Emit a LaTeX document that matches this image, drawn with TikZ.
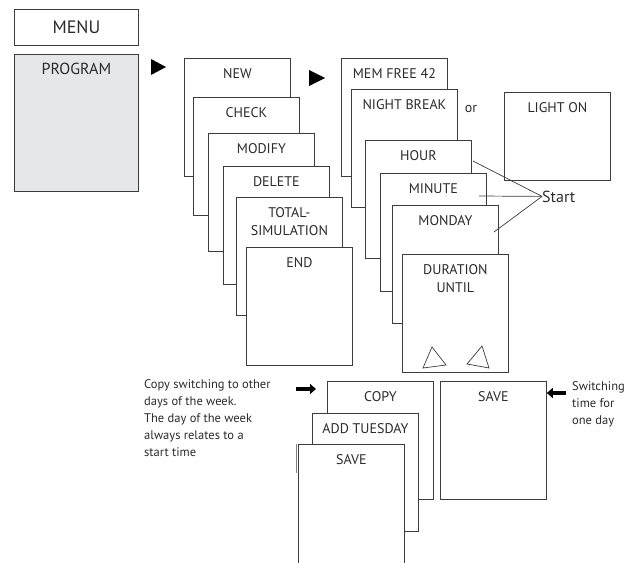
\documentclass[tikz,border=0pt]{standalone}
\usepackage{fontspec}
\setmainfont{PT Sans}
\usetikzlibrary{arrows.meta,positioning}
\definecolor{linec}{HTML}{3C3C3C}
\definecolor{textc}{HTML}{2B2B2B}
\definecolor{progc}{HTML}{E6E7E8}
\tikzset{
  card/.style={draw=linec,line width=0.8pt,fill=white,anchor=north west,minimum width=106pt,minimum height=118pt,inner sep=0pt},
  lbl/.style={font=\fontsize{14}{18}\selectfont,text=textc,inner sep=0pt,align=center},
  note/.style={font=\fontsize{12.5}{17}\selectfont,text=textc,inner sep=0pt,align=left,anchor=north west},
  blk/.style={-{Triangle[length=6pt,width=10pt]},line width=4pt,draw=black},
  lnk/.style={draw=linec,line width=0.7pt},
}
\newcommand{\card}[4][]{%
  \node[card,#1] (#2) at (#3) {};
  \node[lbl,anchor=north] (#2-t) at ([yshift=-10pt]#2.north) {#4};}

\begin{document}
\begin{tikzpicture}[x=1pt,y=-1pt]
  \useasboundingbox (0,0) rectangle (642,562);
  \clip (0,0) rectangle (642,562);
  % menu column
  \node[card,minimum width=124pt,minimum height=36pt] (menu) at (14,9) {};
  \node[lbl,font=\fontsize{18}{20}\selectfont] (menu-t) at (menu.center) {MENU};
  \node[card,fill=progc,minimum width=124pt,minimum height=137pt] (prog) at (14,54) {};
  \node[lbl,font=\fontsize{16}{18}\selectfont,anchor=north] (prog-t) at ([yshift=-9pt]prog.north) {PROGRAM};
  \fill (151,59) -- (166,67) -- (151,75) -- cycle;
  % program sub menu
  \card{new}{184,58}{NEW}
  \card{check}{193,97}{CHECK}
  \card{modify}{208,133}{MODIFY}
  \card{delete}{223,166}{DELETE}
  \card{total}{236,197}{TOTAL-\\SIMULATION}
  \card{end}{246,247}{END}
  \fill (309,70) -- (325,78) -- (309,86) -- cycle;
  % new entry
  \card{mem}{341,58}{MEM FREE 42}
  \card{night}{351,89}{NIGHT BREAK}
  \node[lbl,anchor=base] (or) at (471,112) {or};
  \card[minimum height=88pt]{light}{504,92}{LIGHT ON}
  \card{hour}{365,140}{HOUR}
  \card{minute}{380,173}{MINUTE}
  \card{monday}{392,205}{MONDAY}
  \card{dur}{402,254}{DURATION\\UNTIL}
  \draw[lnk] (432,347) -- (423,368) -- (446,365) -- cycle;
  \draw[lnk] (482,346) -- (467,364) -- (489,368) -- cycle;
  % start
  \node[lbl,font=\fontsize{16}{18}\selectfont,anchor=base west] (start) at (542,202) {Start};
  \coordinate (hr) at (473,161);
  \coordinate (mi) at (479,196);
  \coordinate (mo) at (494,232);
  \draw[lnk] (hr) -- (start.west);
  \draw[lnk] (mi) -- (start.west);
  \draw[lnk] (mo) -- (start.west);
  % copy
  \node[note] (cpnote) at (144,379) {Copy switching to other\\days of the week.\\The day of the week\\always relates to a\\start time};
  \coordinate (cpa) at (296,389);
  \coordinate (cpb) at (316,389);
  \draw[blk] (cpa) -- (cpb);
  \card{copy}{327,381}{COPY}
  \card{addtue}{312,413}{ADD TUESDAY}
  \draw[draw=black!50,line width=0.8pt] (296.5,444) -- (296.5,473);
  \card[minimum height=140pt]{savel}{298,444}{SAVE}
  % save
  \card{saver}{440,381}{SAVE}
  \coordinate (swa) at (566,393);
  \draw[blk] (swa) -- (swa -| saver.east);
  \node[note] (swnote) at (572,381) {Switching\\time for\\one day};
\end{tikzpicture}
\end{document}
